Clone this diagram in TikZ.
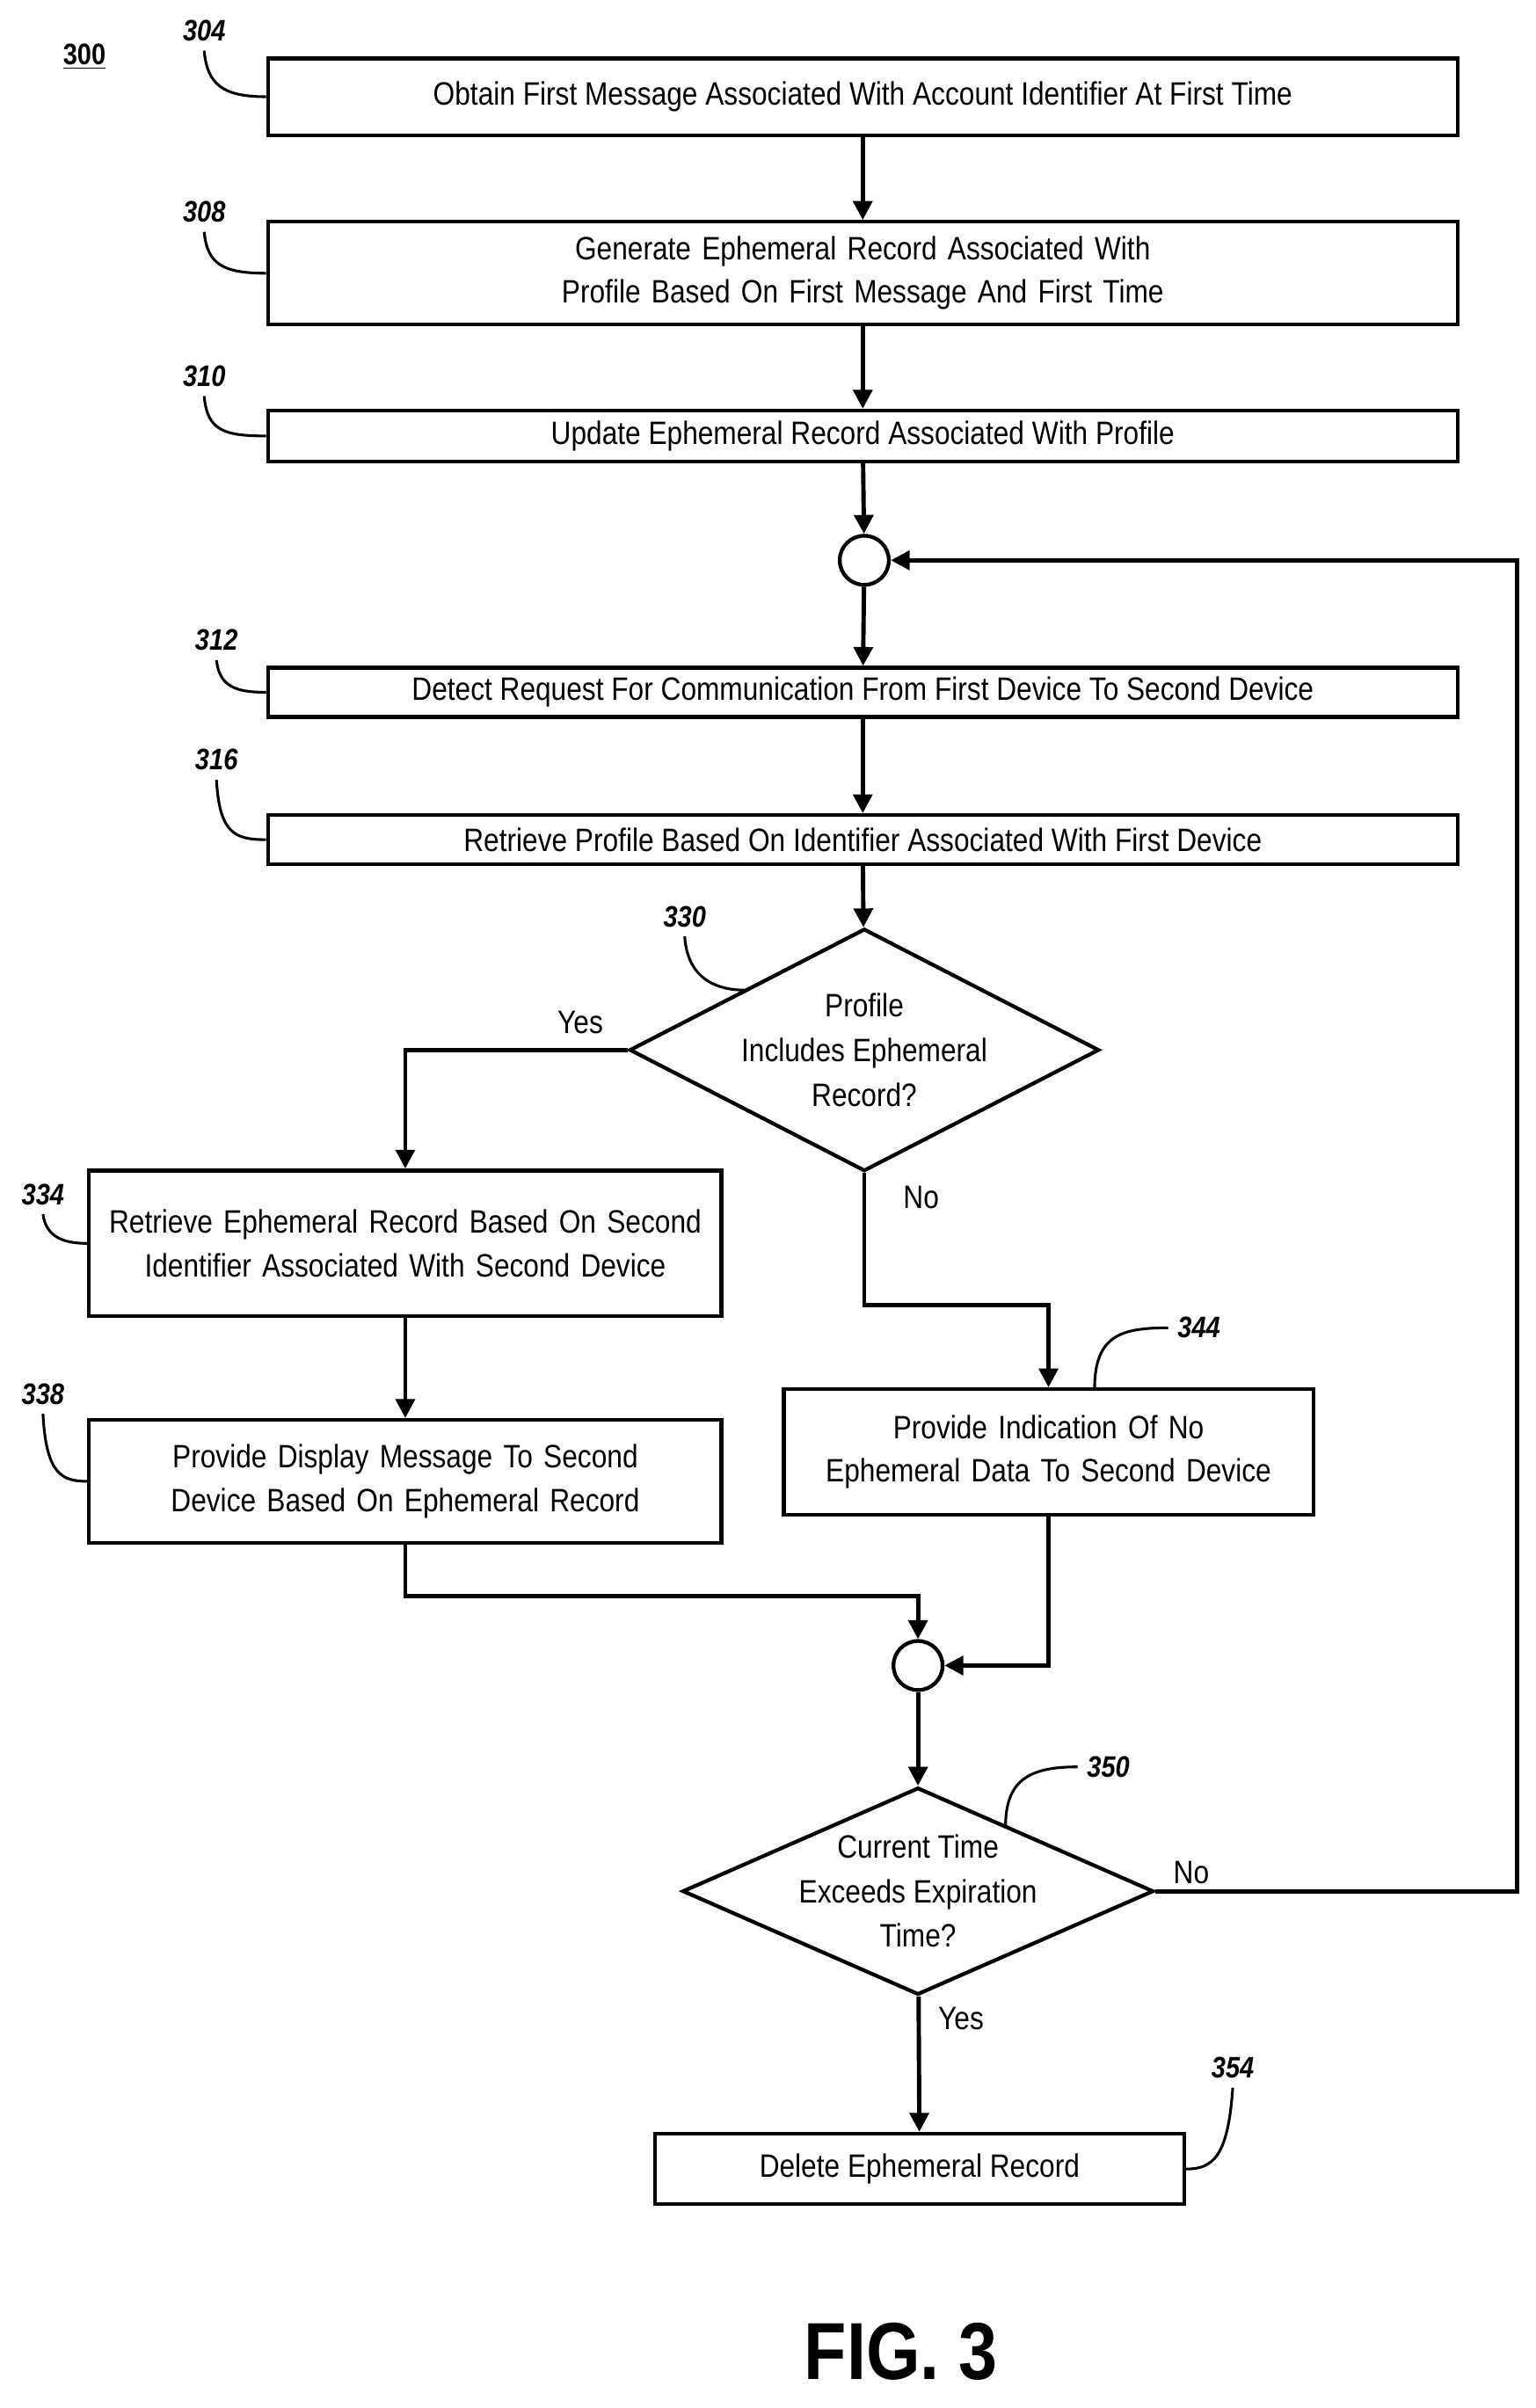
\documentclass[tikz,border=0pt]{standalone}
\usepackage{fontspec}
\setmainfont{Liberation Sans}[FakeStretch=0.86]
\usetikzlibrary{shapes.geometric,arrows.meta}
\newcommand\nohyph{\hyphenpenalty10000\exhyphenpenalty10000\relax}
\tikzset{
  box/.style   ={draw, line width=1.4pt, align=center, inner sep=2pt, font=\fontsize{12}{16}\selectfont\nohyph},
  dia/.style   ={draw, line width=1.4pt, diamond, inner sep=0pt},
  diatext/.style={align=center, font=\fontsize{12}{16.5}\selectfont},
  junc/.style  ={draw, line width=1.4pt, circle, minimum size=0.64cm, inner sep=0pt},
  flow/.style  ={line width=1.6pt, -{Triangle[length=7pt,width=7pt]}},
  lead/.style  ={line width=1pt},
  refnum/.style={font=\bfseries\itshape\fontsize{11}{13}\selectfont},
  lbl/.style   ={font=\fontsize{12}{14}\selectfont}
}
\begin{document}
\begin{tikzpicture}[x=0.02cm, y=-0.02cm]
            \useasboundingbox (0,0) rectangle (1000,1568.7);
            % boxes and decisions
            \node[box, minimum width=15.5cm, minimum height=1.00cm] (obtain)   at (562,  63) {Obtain First Message Associated With Account Identifier At First Time};
            \node[box, minimum width=15.5cm, minimum height=1.34cm, text width=15.3cm] (generate) at (562, 178) {Generate Ephemeral Record Associated With Profile Based On First Message And First Time};
            \node[box, minimum width=15.5cm, minimum height=0.66cm] (update)   at (562, 284) {Update Ephemeral Record Associated With Profile};
            \node[junc]                                            (joinA)    at (563, 365) {};
            \node[box, minimum width=15.5cm, minimum height=0.64cm] (detect)   at (562, 451) {Detect Request For Communication From First Device To Second Device};
            \node[box, minimum width=15.5cm, minimum height=0.64cm] (retrieve) at (562, 547) {Retrieve Profile Based On Identifier Associated With First Device};
            \node[dia, minimum width=6.12cm, minimum height=3.16cm] (hasrec)   at (563, 684) {};
            \node[diatext] (hasrectext) at (563, 684) {Profile\\Includes Ephemeral\\Record?};
            \node[box, minimum width=8.24cm, minimum height=1.90cm, text width=8.0cm] (getrec) at (264, 810) {Retrieve Ephemeral Record Based On Second Identifier Associated With Second Device};
            \node[box, minimum width=8.24cm, minimum height=1.60cm, text width=8.0cm] (display) at (264, 965) {Provide Display Message To Second Device Based On Ephemeral Record};
            \node[box, minimum width=6.90cm, minimum height=1.64cm, text width=6.6cm] (nodata) at (683, 946) {Provide Indication Of No Ephemeral Data To Second Device};
            \node[junc]                                            (joinB)    at (598,1085) {};
            \node[dia, minimum width=6.14cm, minimum height=2.70cm] (expired)  at (598,1232) {};
            \node[diatext] (expiredtext) at (598,1232) {Current Time\\Exceeds Expiration\\Time?};
            \node[box, minimum width=6.90cm, minimum height=0.92cm] (delete)   at (599,1413) {Delete Ephemeral Record};
            % reference numerals
            \node[font=\bfseries\fontsize{11}{13}\selectfont] (fignum) at (55,37) {\underline{300}};
            \node[refnum] (n304) at (133,  20) {304};
            \node[refnum] (n308) at (133, 138) {308};
            \node[refnum] (n310) at (133, 245) {310};
            \node[refnum] (n312) at (141, 417) {312};
            \node[refnum] (n316) at (141, 495) {316};
            \node[refnum] (n330) at (446, 597) {330};
            \node[refnum] (n334) at ( 28, 778) {334};
            \node[refnum] (n338) at ( 28, 908) {338};
            \node[refnum] (n344) at (781, 865) {344};
            \node[refnum] (n350) at (722,1151) {350};
            \node[refnum] (n354) at (803,1347) {354};
            \draw[lead] (n304.south) .. controls (135,55) and (145,63) .. (obtain.west);
            \draw[lead] (n308.south) .. controls (135,172) and (145,178) .. (generate.west);
            \draw[lead] (n310.south) .. controls (135,280) and (145,284) .. (update.west);
            \draw[lead] (n312.south) .. controls (143,447) and (153,451) .. (detect.west);
            \draw[lead] (n316.south) .. controls (143,543) and (153,547) .. (retrieve.west);
            \draw[lead] (n330.south) .. controls (448,640) and (470,645) .. (485,645);
            \draw[lead] (n334.south) .. controls (30,805) and (40,810) .. (getrec.west);
            \draw[lead] (n338.south) .. controls (30,960) and (40,965) .. (display.west);
            \draw[lead] (n344.west) .. controls (730,865) and (713,870) .. (713,905);
            \draw[lead] (n350.west) .. controls (670,1151) and (655,1160) .. (655,1190);
            \draw[lead] (n354.south) .. controls (800,1405) and (790,1413) .. (delete.east);
            % connectors
            \draw[flow] (obtain)   -- (generate);
            \draw[flow] (generate) -- (update);
            \draw[flow] (update)   -- (joinA);
            \draw[flow] (joinA)    -- (detect);
            \draw[flow] (detect)   -- (retrieve);
            \draw[flow] (retrieve) -- (hasrec);
            \draw[flow] (hasrec.west) -| (getrec.north);
            \node[lbl] (lblyes1) at (378,666) {Yes};
            \draw[flow] (hasrec.south) |- (683,850) -- (nodata.north);
            \node[lbl] (lblno1) at (600,780) {No};
            \draw[flow] (getrec)   -- (display);
            \draw[flow] (display.south) |- (598,1040) -- (joinB.north);
            \draw[flow] (nodata.south) |- (joinB.east);
            \draw[flow] (joinB)    -- (expired);
            \draw[flow] (expired.east) -- (988,1232) |- (joinA.east);
            \node[lbl] (lblno2) at (776,1220) {No};
            \draw[flow] (expired)  -- (delete);
            \node[lbl] (lblyes2) at (626,1315) {Yes};
            \node[font=\bfseries\fontsize{30}{34}\selectfont] (caption) at (587,1532) {FIG. 3};
            \end{tikzpicture}
\end{document}
